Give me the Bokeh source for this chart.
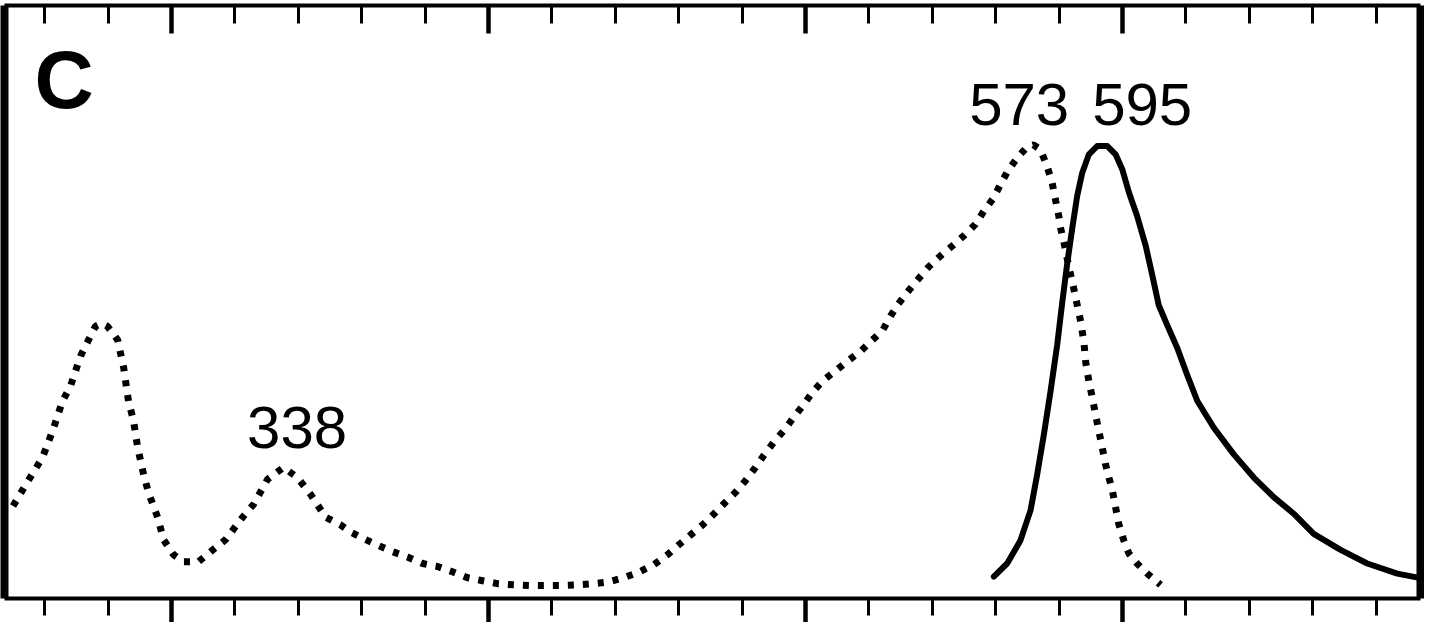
from bokeh.plotting import figure
from bokeh.models import Range1d, LinearAxis, FixedTicker, Label
from bokeh.embed import file_html
from bokeh.resources import INLINE

# ---- data ----
abs_nm = [250.0, 253.9, 259.3, 262.5, 265.6, 268.1, 271.3, 273.8, 276.0, 277.9,
          279.8, 283.0, 284.9, 286.4, 288.0, 289.3, 291.2, 292.7, 295.6, 297.5,
          300.6, 303.8, 308.5, 312.3, 317.0, 322.4, 325.9, 330.3, 335.3, 339.7,
          343.8, 348.6, 353.3, 356.5, 360.6, 365.0, 369.7, 374.4, 379.2, 383.9,
          388.6, 393.4, 398.1, 402.8, 407.9, 413.2, 418.6, 423.3, 428.1, 433.1,
          437.9, 442.6, 447.3, 452.1, 456.5, 459.9, 463.7, 467.5, 471.0, 474.1,
          477.9, 481.1, 484.2, 486.8, 489.9, 493.1, 496.2, 499.4, 502.2, 505.4,
          509.5, 513.2, 517.4, 521.1, 524.3, 526.8, 529.3, 532.5, 535.6, 538.8,
          542.6, 546.4, 549.8, 553.6, 556.2, 559.0, 561.5, 563.7, 566.9, 570.0,
          571.9, 574.1, 576.2, 577.8, 578.9, 579.9, 580.4, 581.5, 583.0, 584.6,
          585.7, 586.8, 587.8, 588.4, 589.4, 590.5, 591.5, 592.5, 593.6, 594.6,
          595.7, 596.8, 597.8, 598.8, 600.4, 602.0, 604.6, 607.8, 612.0]
abs_val = [0.156, 0.191, 0.238, 0.283, 0.333, 0.358, 0.409, 0.436, 0.459, 0.464,
           0.459, 0.436, 0.389, 0.333, 0.300, 0.255, 0.209, 0.179, 0.137, 0.099,
           0.074, 0.062, 0.062, 0.079, 0.099, 0.137, 0.159, 0.201, 0.221, 0.204,
           0.176, 0.137, 0.124, 0.112, 0.101, 0.090, 0.079, 0.070, 0.059, 0.054,
           0.045, 0.035, 0.030, 0.025, 0.023, 0.022, 0.022, 0.022, 0.023, 0.025,
           0.028, 0.035, 0.044, 0.057, 0.074, 0.090, 0.107, 0.124, 0.142, 0.159,
           0.179, 0.199, 0.221, 0.241, 0.263, 0.283, 0.305, 0.327, 0.348, 0.367,
           0.384, 0.400, 0.417, 0.436, 0.452, 0.476, 0.497, 0.519, 0.539, 0.559,
           0.578, 0.595, 0.611, 0.631, 0.653, 0.673, 0.698, 0.720, 0.744, 0.762,
           0.765, 0.757, 0.729, 0.701, 0.671, 0.645, 0.626, 0.601, 0.561, 0.523,
           0.495, 0.467, 0.433, 0.398, 0.366, 0.338, 0.310, 0.283, 0.255, 0.227,
           0.204, 0.182, 0.154, 0.126, 0.098, 0.076, 0.059, 0.042, 0.023]

em_nm = [559.4, 563.6, 567.8, 571.0, 573.1, 575.2, 577.3, 579.4, 581.0, 582.6,
         584.1, 585.7, 587.3, 589.4, 592.0, 595.2, 597.8, 599.9, 602.0, 604.6,
         607.3, 609.4, 611.4, 614.1, 617.3, 620.4, 623.6, 628.8, 635.1, 641.4,
         647.7, 654.0, 660.3, 668.8, 677.2, 686.7, 697.2]
em_val = [0.037, 0.059, 0.098, 0.149, 0.210, 0.277, 0.350, 0.428, 0.500, 0.567,
          0.623, 0.679, 0.718, 0.749, 0.763, 0.763, 0.749, 0.724, 0.685, 0.645,
          0.595, 0.545, 0.495, 0.461, 0.422, 0.377, 0.333, 0.288, 0.243, 0.204,
          0.171, 0.143, 0.109, 0.082, 0.059, 0.042, 0.031]

major_ticks = [300, 400, 500, 600]
minor_ticks = [260, 280, 320, 340, 360, 380, 420, 440, 460, 480,
               520, 540, 560, 580, 620, 640, 660, 680]

peak_labels = ["338", "573", "595"]
panel_letter = "C"

# ---- figure ----
p = figure(width=1424, height=622,
           x_range=Range1d(247.3, 694.0), y_range=Range1d(0, 1.0),
           output_backend="svg", toolbar_location=None,
           min_border_left=4, min_border_right=4, min_border_top=5,
           min_border_bottom=24, background_fill_color="white",
           border_fill_color="white")
p.outline_line_color = None
p.grid.visible = False


def style_ticks_axis(ax, tick_in, tick_out):
    ax.ticker = FixedTicker(ticks=major_ticks, minor_ticks=minor_ticks)
    ax.axis_line_color = "black"
    ax.axis_line_width = 4
    ax.major_tick_line_color = "black"
    ax.major_tick_line_width = 4.5
    ax.minor_tick_line_color = "black"
    ax.minor_tick_line_width = 3
    ax.major_tick_in = tick_in[0]
    ax.minor_tick_in = tick_in[1]
    ax.major_tick_out = tick_out[0]
    ax.minor_tick_out = tick_out[1]
    ax.major_label_text_font_size = "0px"
    ax.major_label_standoff = 0
    ax.major_label_overrides = {t: "" for t in major_ticks}


def style_plain_axis(ax):
    ax.ticker = FixedTicker(ticks=[])
    ax.axis_line_color = "black"
    ax.axis_line_width = 8
    ax.major_tick_in = 0
    ax.major_tick_out = 0
    ax.minor_tick_in = 0
    ax.minor_tick_out = 0
    ax.major_label_text_font_size = "0px"
    ax.major_label_standoff = 0


style_ticks_axis(p.xaxis[0], (0, 0), (24, 17))
top_axis = LinearAxis()
style_ticks_axis(top_axis, (28, 18), (0, 0))
p.add_layout(top_axis, "above")

style_plain_axis(p.yaxis[0])
right_axis = LinearAxis()
style_plain_axis(right_axis)
p.add_layout(right_axis, "right")

# ---- curves ----
p.line(abs_nm, abs_val, line_color="black", line_width=7, line_dash="6 9")
p.line(em_nm, em_val, line_color="black", line_width=6, line_join="round",
       line_cap="round")

# ---- annotations ----
font = "Liberation Sans"
p.add_layout(Label(x=339.6, y=0.289, text=peak_labels[0], text_align="center",
                   text_baseline="alphabetic", text_font=font,
                   text_font_size="60px", text_color="black"))
p.add_layout(Label(x=567.4, y=0.833, text=peak_labels[1], text_align="center",
                   text_baseline="alphabetic", text_font=font,
                   text_font_size="60px", text_color="black"))
p.add_layout(Label(x=606.2, y=0.833, text=peak_labels[2], text_align="center",
                   text_baseline="alphabetic", text_font=font,
                   text_font_size="60px", text_color="black"))
p.add_layout(Label(x=266.1, y=0.876, text=panel_letter, text_align="center",
                   text_baseline="alphabetic", text_font=font,
                   text_font_style="bold", text_font_size="82px",
                   text_color="black"))

open("out.html", "w").write(file_html(p, INLINE))
